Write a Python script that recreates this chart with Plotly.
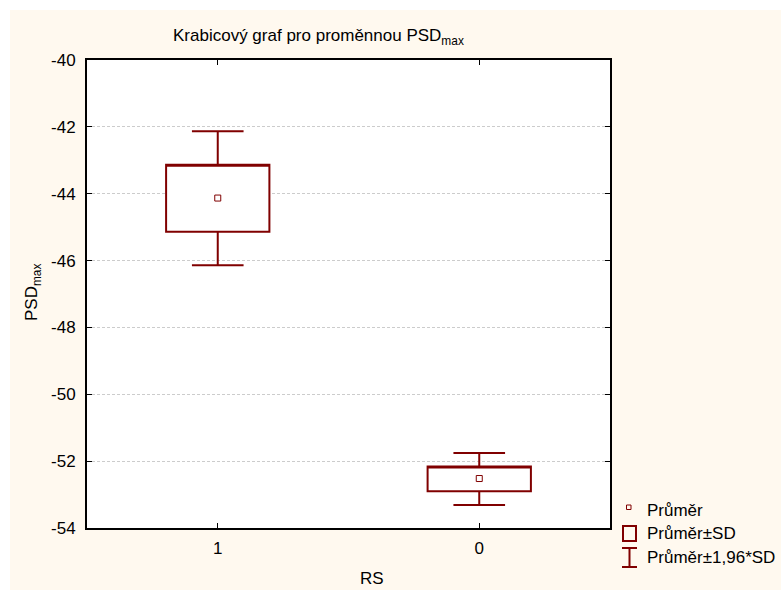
import plotly.graph_objects as go

# ---- data ----
categories = ["1", "0"]
means = [-44.13, -52.52]
sd_low = [-45.14, -52.90]
sd_high = [-43.13, -52.16]
ci_low = [-46.14, -53.31]
ci_high = [-42.13, -51.76]
y_ticks = [-40, -42, -44, -46, -48, -50, -52, -54]
y_tick_text = ["-40", "-42", "-44", "-46", "-48", "-50", "-52", "-54"]
legend_labels = ["Průměr", "Průměr±SD", "Průměr±1,96*SD"]

DARK = "#800000"
CREAM = "#FFF9EF"
FONT = "Liberation Sans, Arial, sans-serif"

W, H = 781, 590
L, R, T, B = 87, 610, 60, 528  # plot area in pixels


def px(x):
    return (x - L) / (R - L)


def py(y):
    return (B - y) / (B - T)


fig = go.Figure()

fig.add_trace(go.Box(
    x=categories,
    q1=sd_low,
    median=sd_high,
    q3=sd_high,
    lowerfence=ci_low,
    upperfence=ci_high,
    width=0.395,
    whiskerwidth=0.5,
    fillcolor="white",
    line=dict(color=DARK, width=2),
    boxpoints=False,
    showlegend=False,
    hoverinfo="skip",
))

fig.add_trace(go.Scatter(
    x=categories,
    y=means,
    mode="markers",
    marker=dict(symbol="square-open", size=6, color=DARK, line=dict(width=1, color=DARK)),
    showlegend=False,
    hoverinfo="skip",
))

shapes = []
# white strips at top and left of the page
shapes.append(dict(type="rect", xref="paper", yref="paper", x0=px(0), x1=px(10), y0=py(0), y1=py(H),
                   fillcolor="white", line=dict(width=0), layer="below"))
shapes.append(dict(type="rect", xref="paper", yref="paper", x0=px(0), x1=px(W), y0=py(0), y1=py(10),
                   fillcolor="white", line=dict(width=0), layer="below"))

# manual legend icons
shapes.append(dict(type="rect", xref="paper", yref="paper", x0=px(626.5), x1=px(631), y0=py(505), y1=py(509.5),
                   line=dict(color=DARK, width=1), fillcolor=CREAM))
shapes.append(dict(type="rect", xref="paper", yref="paper", x0=px(623), x1=px(636), y0=py(526), y1=py(541),
                   line=dict(color=DARK, width=2)))
shapes.append(dict(type="line", xref="paper", yref="paper", x0=px(629.5), x1=px(629.5), y0=py(548), y1=py(567),
                   line=dict(color=DARK, width=2)))
shapes.append(dict(type="line", xref="paper", yref="paper", x0=px(622), x1=px(637), y0=py(548), y1=py(548),
                   line=dict(color=DARK, width=2)))
shapes.append(dict(type="line", xref="paper", yref="paper", x0=px(622), x1=px(637), y0=py(567), y1=py(567),
                   line=dict(color=DARK, width=2)))

annotations = []
legend_y = [510, 533, 557]
for lab, yy in zip(legend_labels, legend_y):
    annotations.append(dict(text=lab, xref="paper", yref="paper", x=px(645), y=py(yy),
                            xanchor="left", yanchor="middle", showarrow=False,
                            font=dict(family=FONT, size=17, color="black")))

annotations.append(dict(text="Krabicový graf pro proměnnou PSD<sub>max</sub>", xref="paper", yref="paper",
                        x=px(318), y=py(37), xanchor="center", yanchor="middle", showarrow=False,
                        font=dict(family=FONT, size=17, color="black")))
annotations.append(dict(text="RS", xref="paper", yref="paper", x=px(372), y=py(578),
                        xanchor="center", yanchor="middle", showarrow=False,
                        font=dict(family=FONT, size=17, color="black")))
annotations.append(dict(text="PSD<sub>max</sub>", xref="paper", yref="paper", x=px(33), y=py(293),
                        xanchor="center", yanchor="middle", textangle=-90, showarrow=False,
                        font=dict(family=FONT, size=17, color="black")))

fig.update_layout(
    width=W, height=H,
    margin=dict(l=L, r=W - R, t=T, b=H - B),
    paper_bgcolor=CREAM,
    plot_bgcolor="white",
    shapes=shapes,
    annotations=annotations,
    showlegend=False,
    font=dict(family=FONT, size=17, color="black"),
)

fig.update_xaxes(
    type="category",
    categoryorder="array", categoryarray=categories,
    range=[-0.5, 1.5],
    showline=True, linecolor="black", linewidth=2, mirror="ticks",
    ticks="inside", ticklen=5, tickwidth=1, tickcolor="black",
    showgrid=False, zeroline=False,
    tickfont=dict(family=FONT, size=17, color="black"),
    ticklabelstandoff=4,
)

fig.update_yaxes(
    range=[-54, -40],
    tickvals=y_ticks, ticktext=y_tick_text,
    showline=True, linecolor="black", linewidth=2, mirror="ticks",
    ticks="inside", ticklen=5, tickwidth=1, tickcolor="black",
    showgrid=True, gridcolor="#cccccc", griddash="3px,2px", gridwidth=1,
    zeroline=False,
    tickfont=dict(family=FONT, size=17, color="black"),
    ticklabelstandoff=6,
)

fig.write_html("out.html")
